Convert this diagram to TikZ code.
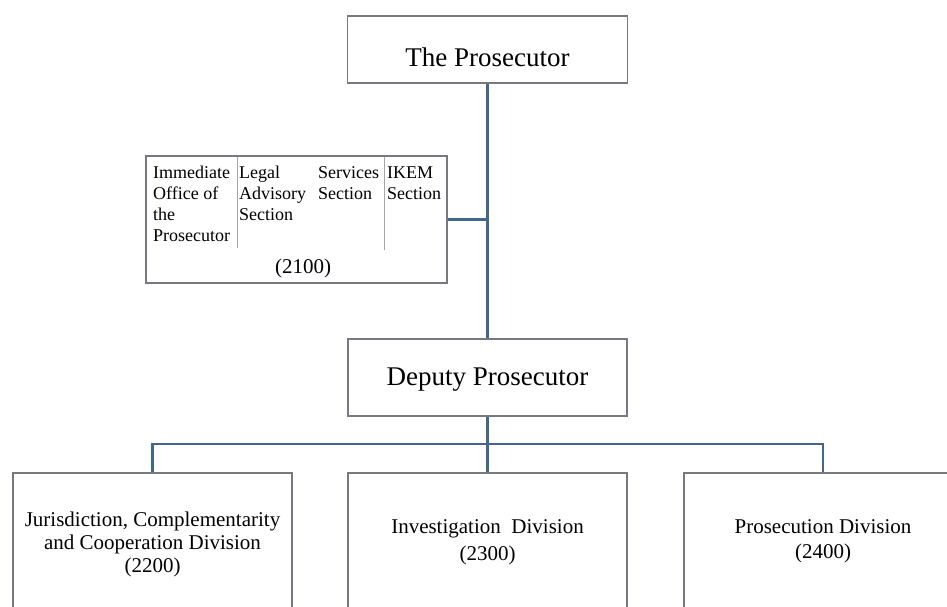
\documentclass[tikz,border=0pt]{standalone}
\usepackage{fontspec}
\setmainfont{Liberation Serif}
\begin{document}
\begin{tikzpicture}[x=1pt,y=-1pt,
  box/.style={draw=boxgray, line width=1.8pt, fill=white, inner sep=0pt},
  link/.style={draw=linkblue, line width=2.4pt},
  divider/.style={draw=gray!70, line width=1pt},
  bigtxt/.style={font=\fontsize{27}{32}\selectfont, anchor=base, inner sep=0pt},
  subtxt/.style={font=\fontsize{18}{21}\selectfont, anchor=base west, align=left, inner sep=0pt},
  divtxt/.style={font=\fontsize{21}{23}\selectfont, anchor=base, align=center, inner sep=0pt}]
\definecolor{boxgray}{RGB}{118,122,128}
\definecolor{linkblue}{RGB}{66,102,146}
\clip (0,0) rectangle (947,606);
\fill[white] (0,0) rectangle (947,606);

% boxes
\node[box, minimum width=280pt, minimum height=67pt] (top) at (487.5,49.5) {};
\node[box, minimum width=301pt, minimum height=127pt] (sub) at (296.5,219.5) {};
\node[box, minimum width=279pt, minimum height=77pt] (dep) at (487.5,377.5) {};
\node[box, minimum width=279pt, minimum height=228pt, anchor=north] (jcc) at (152.5,472) {};
\node[box, minimum width=279pt, minimum height=228pt, anchor=north] (inv) at (487.5,472) {};
\node[box, minimum width=278pt, minimum height=228pt, anchor=north] (pro) at (823,472) {};

% connectors
\coordinate (bus) at (487.5,444);
\draw[link] (top.south) -- (dep.north);
\draw[link] (sub.east) -- (top.south |- sub.east);
\draw[link] (dep.south) -- (inv.north);
\draw[link] (jcc.north) |- (bus) -| (pro.north);

% column dividers inside the 2100 box
\draw[divider] (237,157) -- (237,248);
\draw[divider] (384,157) -- (384,250);

% texts (multi-line nodes are placed by the baseline of their last line)
\node[bigtxt] (toptxt) at (487.5,66) {The Prosecutor};
\node[bigtxt] (deptxt) at (487.5,385) {Deputy Prosecutor};

\node[subtxt] (c1) at (153,241) {Immediate\\Office of\\the\\Prosecutor};
\node[subtxt] (c2) at (239,220) {Legal\\Advisory\\Section};
\node[subtxt] (c3) at (318,199) {Services\\Section};
\node[subtxt] (c4) at (387,199) {IKEM\\Section};
\node[divtxt] (c0) at (303,273) {(2100)};

\node[divtxt] (jcctxt) at (152.5,572) {Jurisdiction, Complementarity\\and Cooperation Division\\(2200)};
\node[divtxt, font=\fontsize{21}{27}\selectfont] (invtxt) at (487.5,560) {Investigation\ \ Division\\(2300)};
\node[divtxt, font=\fontsize{21}{25}\selectfont] (protxt) at (823,558) {Prosecution Division\\(2400)};
\end{tikzpicture}
\end{document}
